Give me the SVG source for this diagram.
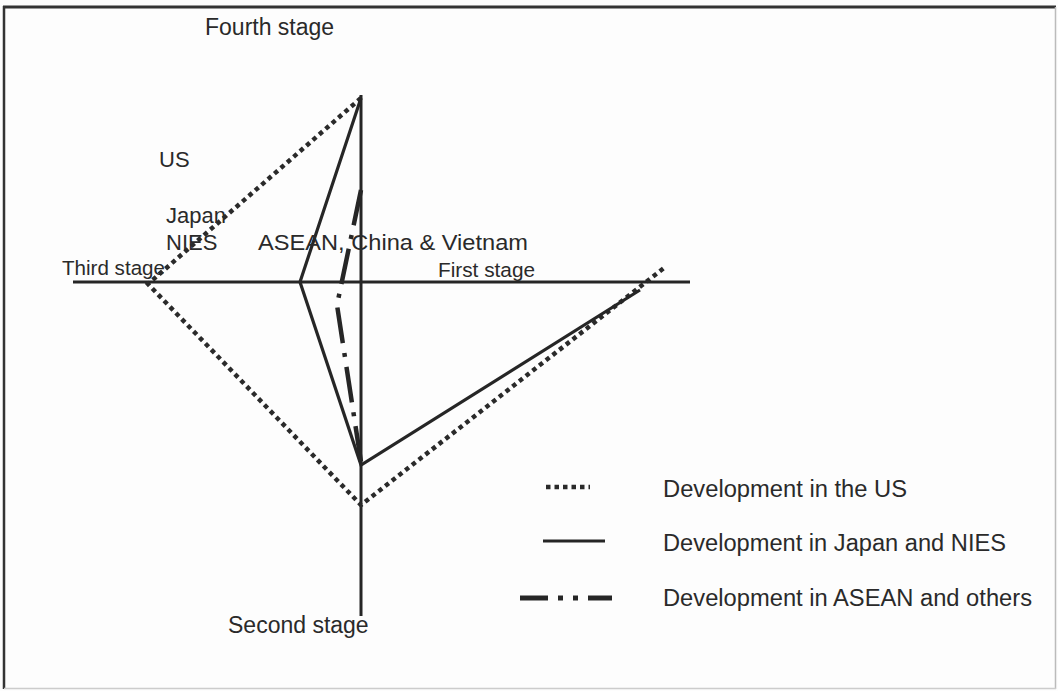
<svg xmlns="http://www.w3.org/2000/svg" width="1058" height="691" viewBox="0 0 1058 691">
<style>
text{font-family:"Liberation Sans",Arial,sans-serif;fill:#2a2a2a;}
.lbl{font-size:22px;}
.stg{font-size:20.5px;}
.big{font-size:23px;}
.leg{font-size:23.5px;}
.axis{stroke:#262626;stroke-width:3;fill:none;}
.us{stroke:#2a2a2a;stroke-width:4.5;stroke-dasharray:4.5 4;fill:none;}
.jp{stroke:#262626;stroke-width:3.2;fill:none;stroke-linejoin:miter;}
.as{stroke:#262626;stroke-width:4.5;stroke-dasharray:36 10 4 10;fill:none;}
</style>
<rect x="0" y="0" width="1058" height="691" fill="#fdfdfd"/>
<g id="frame" fill="none">
<line x1="3" y1="7" x2="1056" y2="7" stroke="#333" stroke-width="3"/>
<line x1="4" y1="6" x2="4" y2="689" stroke="#333" stroke-width="2.5"/>
<line x1="1055.5" y1="7" x2="1055.5" y2="689" stroke="#bbb" stroke-width="1.5"/>
<line x1="4" y1="688.5" x2="1056" y2="688.5" stroke="#ccc" stroke-width="1.5"/>
</g>
<g id="axes">
<line class="axis" x1="361" y1="95" x2="361" y2="616"/>
<line class="axis" x1="73" y1="282" x2="690" y2="282"/>
</g>
<g id="connectors">
<polyline class="us" points="361,98 148,284 361,505 664,268"/>
<polyline class="jp" points="361,98 300,282 361,465 640,290"/>
<polyline class="as" points="361,190 337,305 361,462"/>
</g>
<g id="labels">
<text class="big" x="205" y="35">Fourth stage</text>
<text class="lbl" x="159" y="167">US</text>
<text class="lbl" x="166" y="223">Japan</text>
<text class="lbl" x="166" y="250">NIES</text>
<text class="lbl" x="258" y="250" textLength="270" lengthAdjust="spacingAndGlyphs">ASEAN, China &amp; Vietnam</text>
<text class="stg" x="62" y="275" textLength="103" lengthAdjust="spacingAndGlyphs">Third stage</text>
<text class="stg" x="438" y="277" textLength="97" lengthAdjust="spacingAndGlyphs">First stage</text>
<text class="big" x="228" y="633">Second stage</text>
</g>
<g id="legend">
<line class="us" x1="546" y1="487" x2="590" y2="487"/>
<line x1="543" y1="541" x2="605" y2="541" stroke="#262626" stroke-width="3"/>
<g stroke="#262626" stroke-width="5">
<line x1="520" y1="598" x2="548" y2="598"/>
<line x1="558" y1="598" x2="563" y2="598"/>
<line x1="573" y1="598" x2="578" y2="598"/>
<line x1="588" y1="598" x2="612" y2="598"/>
</g>
<text class="leg" x="663" y="497" textLength="244" lengthAdjust="spacingAndGlyphs">Development in the US</text>
<text class="leg" x="663" y="551" textLength="343" lengthAdjust="spacingAndGlyphs">Development in Japan and NIES</text>
<text class="leg" x="663" y="606" textLength="369" lengthAdjust="spacingAndGlyphs">Development in ASEAN and others</text>
</g>
</svg>
